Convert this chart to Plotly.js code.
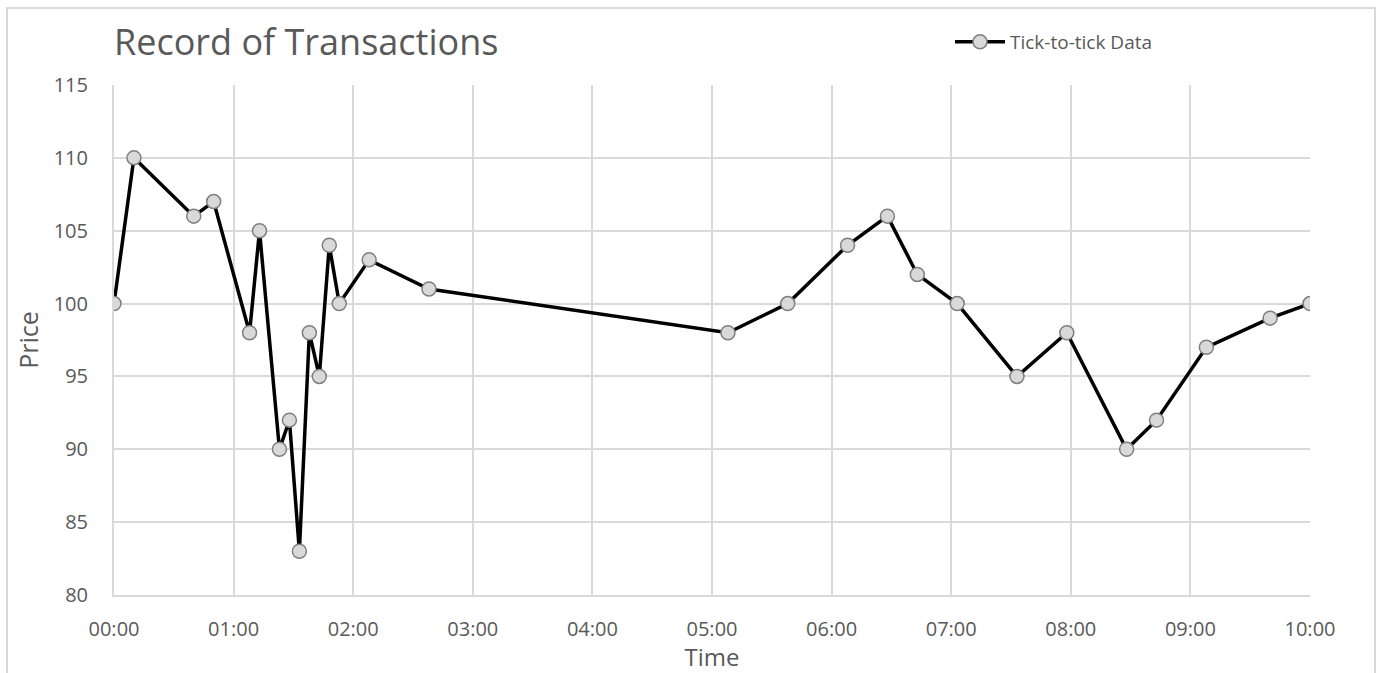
<!DOCTYPE html>
<html>
<head>
<meta charset="utf-8">
<script src="https://cdn.plot.ly/plotly-3.0.1.min.js"></script>
<style>html,body{margin:0;padding:0;background:#fff;}#chart{width:1380px;height:673px;}</style>
</head>
<body>
<div id="chart"></div>
<script>
const times = ["00:00","00:10","00:40","00:50","01:08","01:13","01:23","01:28","01:33","01:38","01:43","01:48","01:53","02:08","02:38","05:08","05:38","06:08","06:28","06:43","07:03","07:33","07:58","08:28","08:43","09:08","09:40","10:00"];
const prices = [100,110,106,107,98,105,90,92,83,98,95,104,100,103,101,98,100,104,106,102,100,95,98,90,92,97,99,100];
const seriesName = "Tick-to-tick Data";
const chartTitle = "Record of Transactions";
const xTitle = "Time";
const yTitle = "Price";

const day = "2000-01-01 ";
const xs = times.map(t => day + t);
const font = "Open Sans, Liberation Sans, sans-serif";
const grey = "#595959";

const trace = {
  x: xs, y: prices, type: "scatter", mode: "lines+markers", name: seriesName,
  line: {color: "#000000", width: 3.5},
  marker: {symbol: "circle", size: 14, color: "#d9d9d9", line: {color: "#7f7f7f", width: 1.5}}
};

const layout = {
  width: 1380, height: 673,
  paper_bgcolor: "#ffffff", plot_bgcolor: "#ffffff",
  margin: {l: 114, r: 70, t: 85, b: 78, pad: 0},
  font: {family: font, color: grey},
  title: {text: chartTitle, x: 114/1380, xanchor: "left", xref: "container", y: 1 - 42/673, yanchor: "middle", yref: "container",
          font: {size: 36, color: grey, family: font}},
  showlegend: true,
  legend: {x: (950 - 114)/1196, xanchor: "left", y: 1 + 43/510, yanchor: "middle", orientation: "h",
           itemwidth: 50, font: {size: 19, color: grey, family: font}, bgcolor: "rgba(0,0,0,0)"},
  xaxis: {
    type: "date",
    range: [day + "00:00", day + "10:00"],
    dtick: 3600000, tick0: day + "00:00", tickformat: "%H:%M",
    showgrid: true, gridcolor: "#d9d9d9", gridwidth: 2,
    showline: true, linecolor: "#d9d9d9", linewidth: 2,
    zeroline: false, ticks: "", ticklabelstandoff: 15,
    tickfont: {size: 20, color: grey, family: font},
    title: {text: xTitle, font: {size: 24, color: grey, family: font}, standoff: 6}
  },
  yaxis: {
    range: [80, 115], dtick: 5, tick0: 80,
    showgrid: true, gridcolor: "#d9d9d9", gridwidth: 2,
    showline: true, linecolor: "#d9d9d9", linewidth: 2,
    zeroline: false, ticks: "", ticklabelstandoff: 20,
    tickfont: {size: 20, color: grey, family: font},
    title: {text: yTitle, font: {size: 25, color: grey, family: font}, standoff: 8}
  },
  shapes: [{
    type: "rect", xref: "paper", yref: "paper",
    x0: (7 - 114) / 1196, x1: (1375 - 114) / 1196,
    y0: (595 - 700) / 510, y1: (595 - 8) / 510,
    line: {color: "#d9d9d9", width: 2}, fillcolor: "rgba(0,0,0,0)", layer: "below"
  }]
};

Plotly.newPlot("chart", [trace], layout, {displayModeBar: false, staticPlot: true});
</script>
</body>
</html>
